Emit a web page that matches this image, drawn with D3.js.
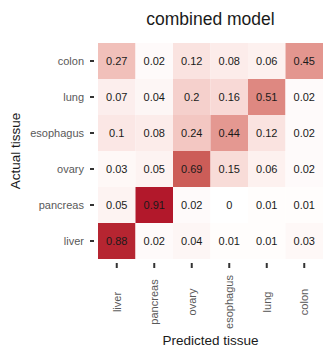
<!DOCTYPE html>
<html>
<head>
<meta charset="utf-8">
<script src="https://cdn.jsdelivr.net/npm/d3@7"></script>
<style>
  body { margin: 0; background: #fff; }
  text { font-family: "Liberation Sans", Arial, sans-serif; }
</style>
</head>
<body>
<div id="chart"></div>
<script>
var predicted = ['liver', 'pancreas', 'ovary', 'esophagus', 'lung', 'colon'];
var actual = ['colon', 'lung', 'esophagus', 'ovary', 'pancreas', 'liver'];

// rows follow "actual", columns follow "predicted"
var colonRow     = [0.27, 0.02, 0.12, 0.08, 0.06, 0.45];
var lungRow      = [0.07, 0.04, 0.2, 0.16, 0.51, 0.02];
var esophagusRow = [0.1, 0.08, 0.24, 0.44, 0.12, 0.02];
var ovaryRow     = [0.03, 0.05, 0.69, 0.15, 0.06, 0.02];
var pancreasRow  = [0.05, 0.91, 0.02, 0, 0.01, 0.01];
var liverRow     = [0.88, 0.02, 0.04, 0.01, 0.01, 0.03];

var rows = [colonRow, lungRow, esophagusRow, ovaryRow, pancreasRow, liverRow];

var cells = [];
rows.forEach(function(r, i) {
	r.forEach(function(v, j) {
		cells.push({ actual: actual[i], predicted: predicted[j], value: v });
	});
});

var margin = {top: 43, right: 0, bottom: 91, left: 98};
var width = 323, height = 350;

var svg = d3.select('#chart').append('svg')
	.attr('width', width)
	.attr('height', height);

var g = svg.append('g')
	.attr('transform', 'translate(' + margin.left + ',' + margin.top + ')');

var innerW = width - margin.left - margin.right;
var innerH = height - margin.top - margin.bottom;

var xScale = d3.scaleBand().domain(predicted).range([0, innerW]);
var yScale = d3.scaleBand().domain(actual).range([0, innerH]);

var color = d3.scaleLinear()
	.domain([0, d3.max(cells, function(d) { return d.value; })])
	.range(['#ffffff', '#b2182b'])
	.interpolate(d3.interpolateLab);

g.selectAll('rect')
	.data(cells)
	.enter()
	.append('rect')
	.attr('x', function(d) { return xScale(d.predicted); })
	.attr('y', function(d) { return yScale(d.actual); })
	.attr('width', xScale.bandwidth())
	.attr('height', yScale.bandwidth())
	.attr('fill', function(d) { return color(d.value); });

g.selectAll('.val')
	.data(cells)
	.enter()
	.append('text')
	.attr('class', 'val')
	.attr('x', function(d) { return xScale(d.predicted) + xScale.bandwidth() / 2; })
	.attr('y', function(d) { return yScale(d.actual) + yScale.bandwidth() / 2; })
	.attr('dy', '0.35em')
	.attr('text-anchor', 'middle')
	.style('font-size', '11px')
	.attr('fill', '#1a1a1a')
	.text(function(d) { return d.value; });

// y axis
var yAxis = d3.axisLeft(yScale).tickSize(4).tickPadding(6);
var yG = g.append('g')
	.attr('transform', 'translate(-4,0)')
	.call(yAxis);
yG.select('.domain').remove();
yG.selectAll('line').attr('stroke', '#333').attr('stroke-width', 2);
yG.selectAll('text').attr('fill', '#595959').style('font-size', '11px');

// x axis
var xAxis = d3.axisBottom(xScale).tickSize(5).tickPadding(4);
var xG = g.append('g')
	.attr('transform', 'translate(0,' + (innerH + 4) + ')')
	.call(xAxis);
xG.select('.domain').remove();
xG.selectAll('line').attr('stroke', '#333').attr('stroke-width', 2);
xG.selectAll('text')
	.attr('fill', '#595959')
	.style('font-size', '11px')
	.attr('y', 0)
	.attr('x', 0)
	.attr('dy', '0.35em')
	.attr('text-anchor', 'middle')
	.attr('transform', 'translate(0,39) rotate(-90)');

// title and axis titles
svg.append('text')
	.attr('x', margin.left + innerW / 2)
	.attr('y', 25)
	.attr('text-anchor', 'middle')
	.style('font-size', '17.5px')
	.attr('fill', '#1a1a1a')
	.text('combined model');

svg.append('text')
	.attr('x', margin.left + innerW / 2)
	.attr('y', 345)
	.attr('text-anchor', 'middle')
	.style('font-size', '13.5px')
	.attr('fill', '#1a1a1a')
	.text('Predicted tissue');

svg.append('text')
	.attr('transform', 'translate(20,' + (margin.top + innerH / 2) + ') rotate(-90)')
	.attr('text-anchor', 'middle')
	.style('font-size', '13.5px')
	.attr('fill', '#1a1a1a')
	.text('Actual tissue');
</script>
</body>
</html>
